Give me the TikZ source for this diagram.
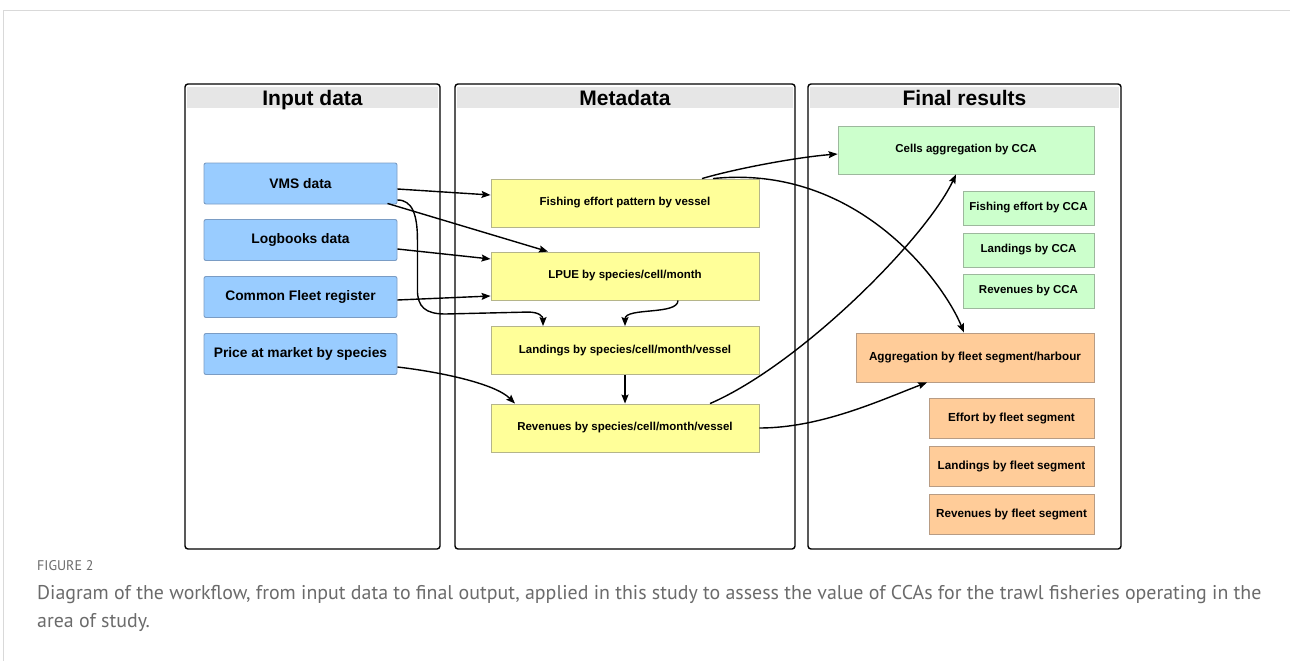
\documentclass[tikz,border=0pt]{standalone}
\usepackage{fontspec}
\setmainfont{Liberation Sans}
\newfontfamily\capfont{PT Sans}
\usetikzlibrary{arrows.meta}
\newcommand{\panelbottom}{549}

\definecolor{inblue}{HTML}{99CCFF}
\definecolor{inblueline}{HTML}{7A9CC4}
\definecolor{metayellow}{HTML}{FFFF99}
\definecolor{metaline}{HTML}{B5B58A}
\definecolor{resgreen}{HTML}{CCFFCC}
\definecolor{resgreenline}{HTML}{9DB89D}
\definecolor{resorange}{HTML}{FFCC99}
\definecolor{resorangeline}{HTML}{B89C84}
\definecolor{headgray}{HTML}{E6E6E6}
\definecolor{captext}{HTML}{6B6B6B}

\tikzset{
	box/.style={draw, line width=0.9pt, inner sep=0pt, align=center, font=\bfseries\fontsize{11.5}{13}\selectfont},
	inbox/.style={box, fill=inblue, draw=inblueline, rounded corners=2pt, minimum width=193pt, minimum height=41pt, font=\bfseries\fontsize{13.8}{16}\selectfont},
	metabox/.style={box, fill=metayellow, draw=metaline, minimum width=268pt, minimum height=48pt},
	greenbox/.style={box, fill=resgreen, draw=resgreenline},
	orangebox/.style={box, fill=resorange, draw=resorangeline, font=\bfseries\fontsize{11.7}{13}\selectfont},
	paneltitle/.style={inner sep=0pt, anchor=base, font=\bfseries\fontsize{21}{24}\selectfont},
	arr/.style={-{Stealth[length=9pt,width=7pt,inset=1.5pt]}, line width=1.4pt}
}

\begin{document}
\begin{tikzpicture}[x=1pt,y=-1pt]

	\fill[white] (0,0) rectangle (1290,661);
	\useasboundingbox (0,0) rectangle (1290,661);
	\draw[black!15, line width=1pt] (1290,11) -- (3,11) -- (3,661);

	% the three columns
	\foreach \l/\r/\t/\n in {185/440/Input data/pin,455/795/Metadata/pmeta,808/1121/Final results/pfin}
	{
		\fill[headgray] (\l+2,87) rectangle (\r-2,108);
		\draw[rounded corners=3pt, line width=1.4pt] (\l,84) rectangle (\r,\panelbottom);
		\node[paneltitle] (\n) at ({(\l+\r)/2},105) {\t};
	}

	\foreach \y/\t/\n in {183.5/VMS data/vms,240/Logbooks data/logb,297/Common Fleet register/fleet,354/Price at market by species/price}
	{
		\node[inbox] (\n) at (300.5,\y) {\t};
	}

	\foreach \y/\t/\n in {203/Fishing effort pattern by vessel/fish,276/LPUE by species\slash cell\slash month/lpue,350.5/Landings by species\slash cell\slash month\slash vessel/land,428/Revenues by species\slash cell\slash month\slash vessel/rev}
	{
		\node[metabox] (\n) at (625,\y) {\t};
	}

	\node[greenbox, minimum width=256pt, minimum height=48pt] (cells) at (966,150) {Cells aggregation by CCA};
	\foreach \y/\t/\n in {208/Fishing effort by CCA/effcca,250/Landings by CCA/landcca,291/Revenues by CCA/revcca}
	{
		\node[greenbox, minimum width=131pt, minimum height=34pt] (\n) at (1028.5,\y) {\t};
	}

	\node[orangebox, minimum width=238pt, minimum height=49pt] (agg) at (975,357.5) {Aggregation by fleet segment\slash harbour};
	\foreach \y/\t/\n in {418/Effort by fleet segment/effseg,466/Landings by fleet segment/landseg,514/Revenues by fleet segment/revseg}
	{
		\node[orangebox, minimum width=165pt, minimum height=40pt] (\n) at (1011.5,\y) {\t};
	}

	% connectors
	\draw[arr] ([yshift=-5.5pt]vms.east) -- ([yshift=8pt]fish.west);
	\draw[arr] ([xshift=-10pt,yshift=1pt]vms.south east) -- ([xshift=-77pt]lpue.north);
	\draw[arr] ([yshift=-9pt]logb.east) -- ([yshift=17pt]lpue.west);
	\draw[arr] ([yshift=-3pt]fleet.east) -- ([yshift=-20pt]lpue.west);
	\draw[arr] ([yshift=-16.5pt]vms.east) .. controls +(15,0) and +(0,-25) .. ++(20,40) -- ++(0,50)
		.. controls +(0,17) and +(-20,0) .. ++(28,24) -- ([xshift=-97pt,yshift=14pt]land.north)
		.. controls +(12,0) and +(0,-9) .. ([xshift=-82pt]land.north);
	\draw[arr] ([xshift=53pt]lpue.south) .. controls +(0,15) and +(0,-19) .. (land.north);
	\draw[arr] ([yshift=-13pt]price.east) .. controls +(43,5) and +(-20,-20) .. ([xshift=-110pt]rev.north);
	\draw[arr] (land.south) -- (rev.north);
	\draw[arr] ([xshift=77pt]fish.north) .. controls +(38,-11) and +(-38,3) .. ([yshift=-4pt]cells.west);
	\draw[arr] ([xshift=88pt]fish.north) .. controls +(147,-15) and +(-19,-47) .. ([xshift=-11pt]agg.north);
	\draw[arr] ([xshift=85pt]rev.north) .. controls +(90,-39) and +(-31,65) .. ([xshift=-10pt]cells.south);
	\draw[arr] (rev.east) .. controls +(61,0) and +(-47,18) .. ([xshift=-48pt]agg.south);

	% caption
	\node[anchor=base west, inner sep=0pt, text=captext, font=\capfont\fontsize{14}{16}\selectfont] (figno) at (37,570) {FIGURE 2};
	\node[anchor=base west, inner sep=0pt, align=left, text=captext, font=\capfont\fontsize{19.9}{28}\selectfont] (caption) at (37,627) {Diagram of the workflow, from input data to final output, applied in this study to assess the value of CCAs for the trawl fisheries operating in the\\area of study.};

\end{tikzpicture}
\end{document}
